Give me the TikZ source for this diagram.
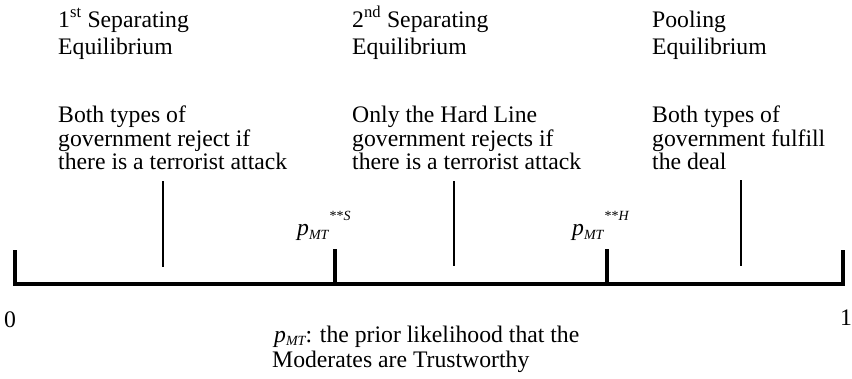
\documentclass[tikz,border=0pt]{standalone}
\usepackage{fontspec}
\setmainfont{Liberation Serif}
\newcommand{\smallsz}{\fontsize{14}{14}\selectfont}
\newcommand{\pmtlabel}[1]{{\itshape p}\raisebox{-0.2em}{\smallsz\itshape MT}\kern1pt\raisebox{0.62em}{\smallsz **\itshape #1}}
\begin{document}
\begin{tikzpicture}[x=1pt,y=-1pt,
  txt/.style={anchor=base west,inner sep=0pt,font=\fontsize{23.7}{25}\selectfont},
  axisline/.style={line width=3.6pt,line join=miter,line cap=butt},
  tickmark/.style={line width=4pt},
  guide/.style={line width=1.8pt}]
\useasboundingbox (0,0) rectangle (852,378);
% axis
\coordinate (l0) at (15,250);
\coordinate (a0) at (15,284);
\coordinate (a1) at (843,284);
\coordinate (l1) at (843,250);
\draw[axisline] (l0) -- (a0) -- (a1) -- (l1);
% threshold ticks
\coordinate (sTop) at (335,249);
\coordinate (sBot) at (335,284);
\coordinate (hTop) at (607,249);
\coordinate (hBot) at (607,284);
\draw[tickmark] (sTop) -- (sBot);
\draw[tickmark] (hTop) -- (hBot);
% region guide lines
\coordinate (g1t) at (163,181); \coordinate (g1b) at (163,267);
\coordinate (g2t) at (454,181); \coordinate (g2b) at (454,266);
\coordinate (g3t) at (741,180); \coordinate (g3b) at (741,266);
\draw[guide] (g1t) -- (g1b);
\draw[guide] (g2t) -- (g2b);
\draw[guide] (g3t) -- (g3b);
% column 1
\node[txt] (c1a) at (58,27) {1\textsuperscript{st} Separating};
\node[txt] (c1b) at (58,54) {Equilibrium};
\node[txt] (c1c) at (58,122) {Both types of};
\node[txt] (c1d) at (58,146) {government reject if};
\node[txt] (c1e) at (58,169) {there is a terrorist attack};
% column 2
\node[txt] (c2a) at (352,27) {2\textsuperscript{nd} Separating};
\node[txt] (c2b) at (352,54) {Equilibrium};
\node[txt] (c2c) at (352,122) {Only the Hard Line};
\node[txt] (c2d) at (352,146) {government rejects if};
\node[txt] (c2e) at (352,169) {there is a terrorist attack};
% column 3
\node[txt] (c3a) at (652,27) {Pooling};
\node[txt] (c3b) at (652,54) {Equilibrium};
\node[txt] (c3c) at (652,122) {Both types of};
\node[txt] (c3d) at (652,146) {government fulfill};
\node[txt] (c3e) at (652,169) {the deal};
% threshold labels
\node[txt] (ps) at (297,235) {\pmtlabel{S}};
\node[txt] (ph) at (572,235) {\pmtlabel{H}};
% end labels
\node[txt] (zero) at (4,327) {0};
\node[txt] (one) at (840,325) {1};
% axis caption
\node[txt] (cap1) at (274,342) {{\itshape p}\raisebox{-0.15em}{\smallsz\itshape MT}: the prior likelihood that the};
\node[txt] (cap2) at (272,367) {Moderates are Trustworthy};
\end{tikzpicture}
\end{document}
